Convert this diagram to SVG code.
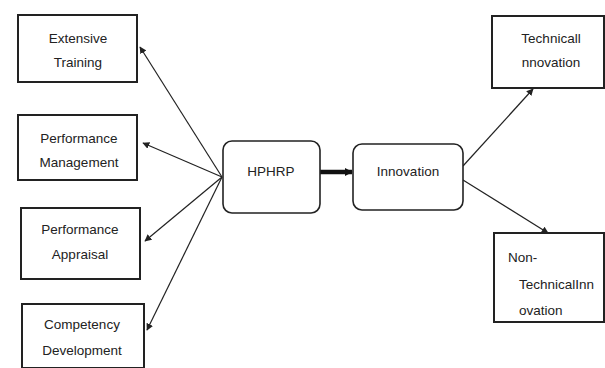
<svg xmlns="http://www.w3.org/2000/svg" width="605" height="368" viewBox="0 0 605 368">
<style>
.box{fill:#fff;stroke:#222;stroke-width:2}
.rbox{fill:#fff;stroke:#222;stroke-width:1.6}
.t{font-family:"Liberation Sans",Arial,sans-serif;font-size:13.5px;fill:#222}
.c{text-anchor:middle}
.ln{stroke:#222;stroke-width:1.2;fill:none;marker-end:url(#ah)}
</style>
<defs>
<marker id="ah" viewBox="0 0 10 10" refX="9" refY="5" markerWidth="7" markerHeight="7" orient="auto" markerUnits="userSpaceOnUse"><path d="M0,0 L10,5 L0,10 z" fill="#222"/></marker>
<marker id="ahb" viewBox="0 0 10 10" refX="9" refY="5" markerWidth="8" markerHeight="8" orient="auto" markerUnits="userSpaceOnUse"><path d="M0,0 L10,5 L0,10 z" fill="#111"/></marker>
</defs>
<rect width="605" height="368" fill="#fff"/>
<g id="connectors">
<line class="ln" x1="222" y1="177" x2="140" y2="47"/>
<line class="ln" x1="222" y1="177" x2="143" y2="143"/>
<line class="ln" x1="222" y1="177" x2="145" y2="241"/>
<line class="ln" x1="222" y1="177" x2="147" y2="330"/>
<line x1="320" y1="172" x2="352" y2="172" stroke="#111" stroke-width="4.5" marker-end="url(#ahb)"/>
<line class="ln" x1="463" y1="166" x2="533" y2="89"/>
<line class="ln" x1="463" y1="180" x2="548" y2="233"/>
</g>
<g id="extensive-training">
<rect class="box" x="18" y="15" width="119" height="67"/>
<text class="t c" x="78" y="43">Extensive</text>
<text class="t c" x="78" y="67">Training</text>
</g>
<g id="performance-management">
<rect class="box" x="18" y="115" width="119" height="65"/>
<text class="t c" x="79" y="143">Performance</text>
<text class="t c" x="79" y="167">Management</text>
</g>
<g id="performance-appraisal">
<rect class="box" x="21" y="208" width="119" height="71"/>
<text class="t c" x="80" y="234">Performance</text>
<text class="t c" x="80" y="259">Appraisal</text>
</g>
<g id="competency-development">
<rect class="box" x="22" y="304" width="122" height="64"/>
<text class="t c" x="82" y="329">Competency</text>
<text class="t c" x="82" y="355">Development</text>
</g>
<g id="hphrp">
<rect class="rbox" x="223" y="141" width="97" height="72" rx="9"/>
<text class="t c" x="271" y="176">HPHRP</text>
</g>
<g id="innovation">
<rect class="rbox" x="353" y="144" width="110" height="66" rx="9"/>
<text class="t c" x="408" y="176">Innovation</text>
</g>
<g id="technical-innovation">
<rect class="box" x="492" y="16" width="112" height="72"/>
<text class="t c" x="551" y="43">Technicall</text>
<text class="t c" x="551" y="67">nnovation</text>
</g>
<g id="non-technical-innovation">
<rect class="box" x="494" y="233" width="110" height="89"/>
<text class="t" x="508" y="262">Non-</text>
<text class="t" x="519" y="289">TechnicalInn</text>
<text class="t" x="519" y="315">ovation</text>
</g>
</svg>
